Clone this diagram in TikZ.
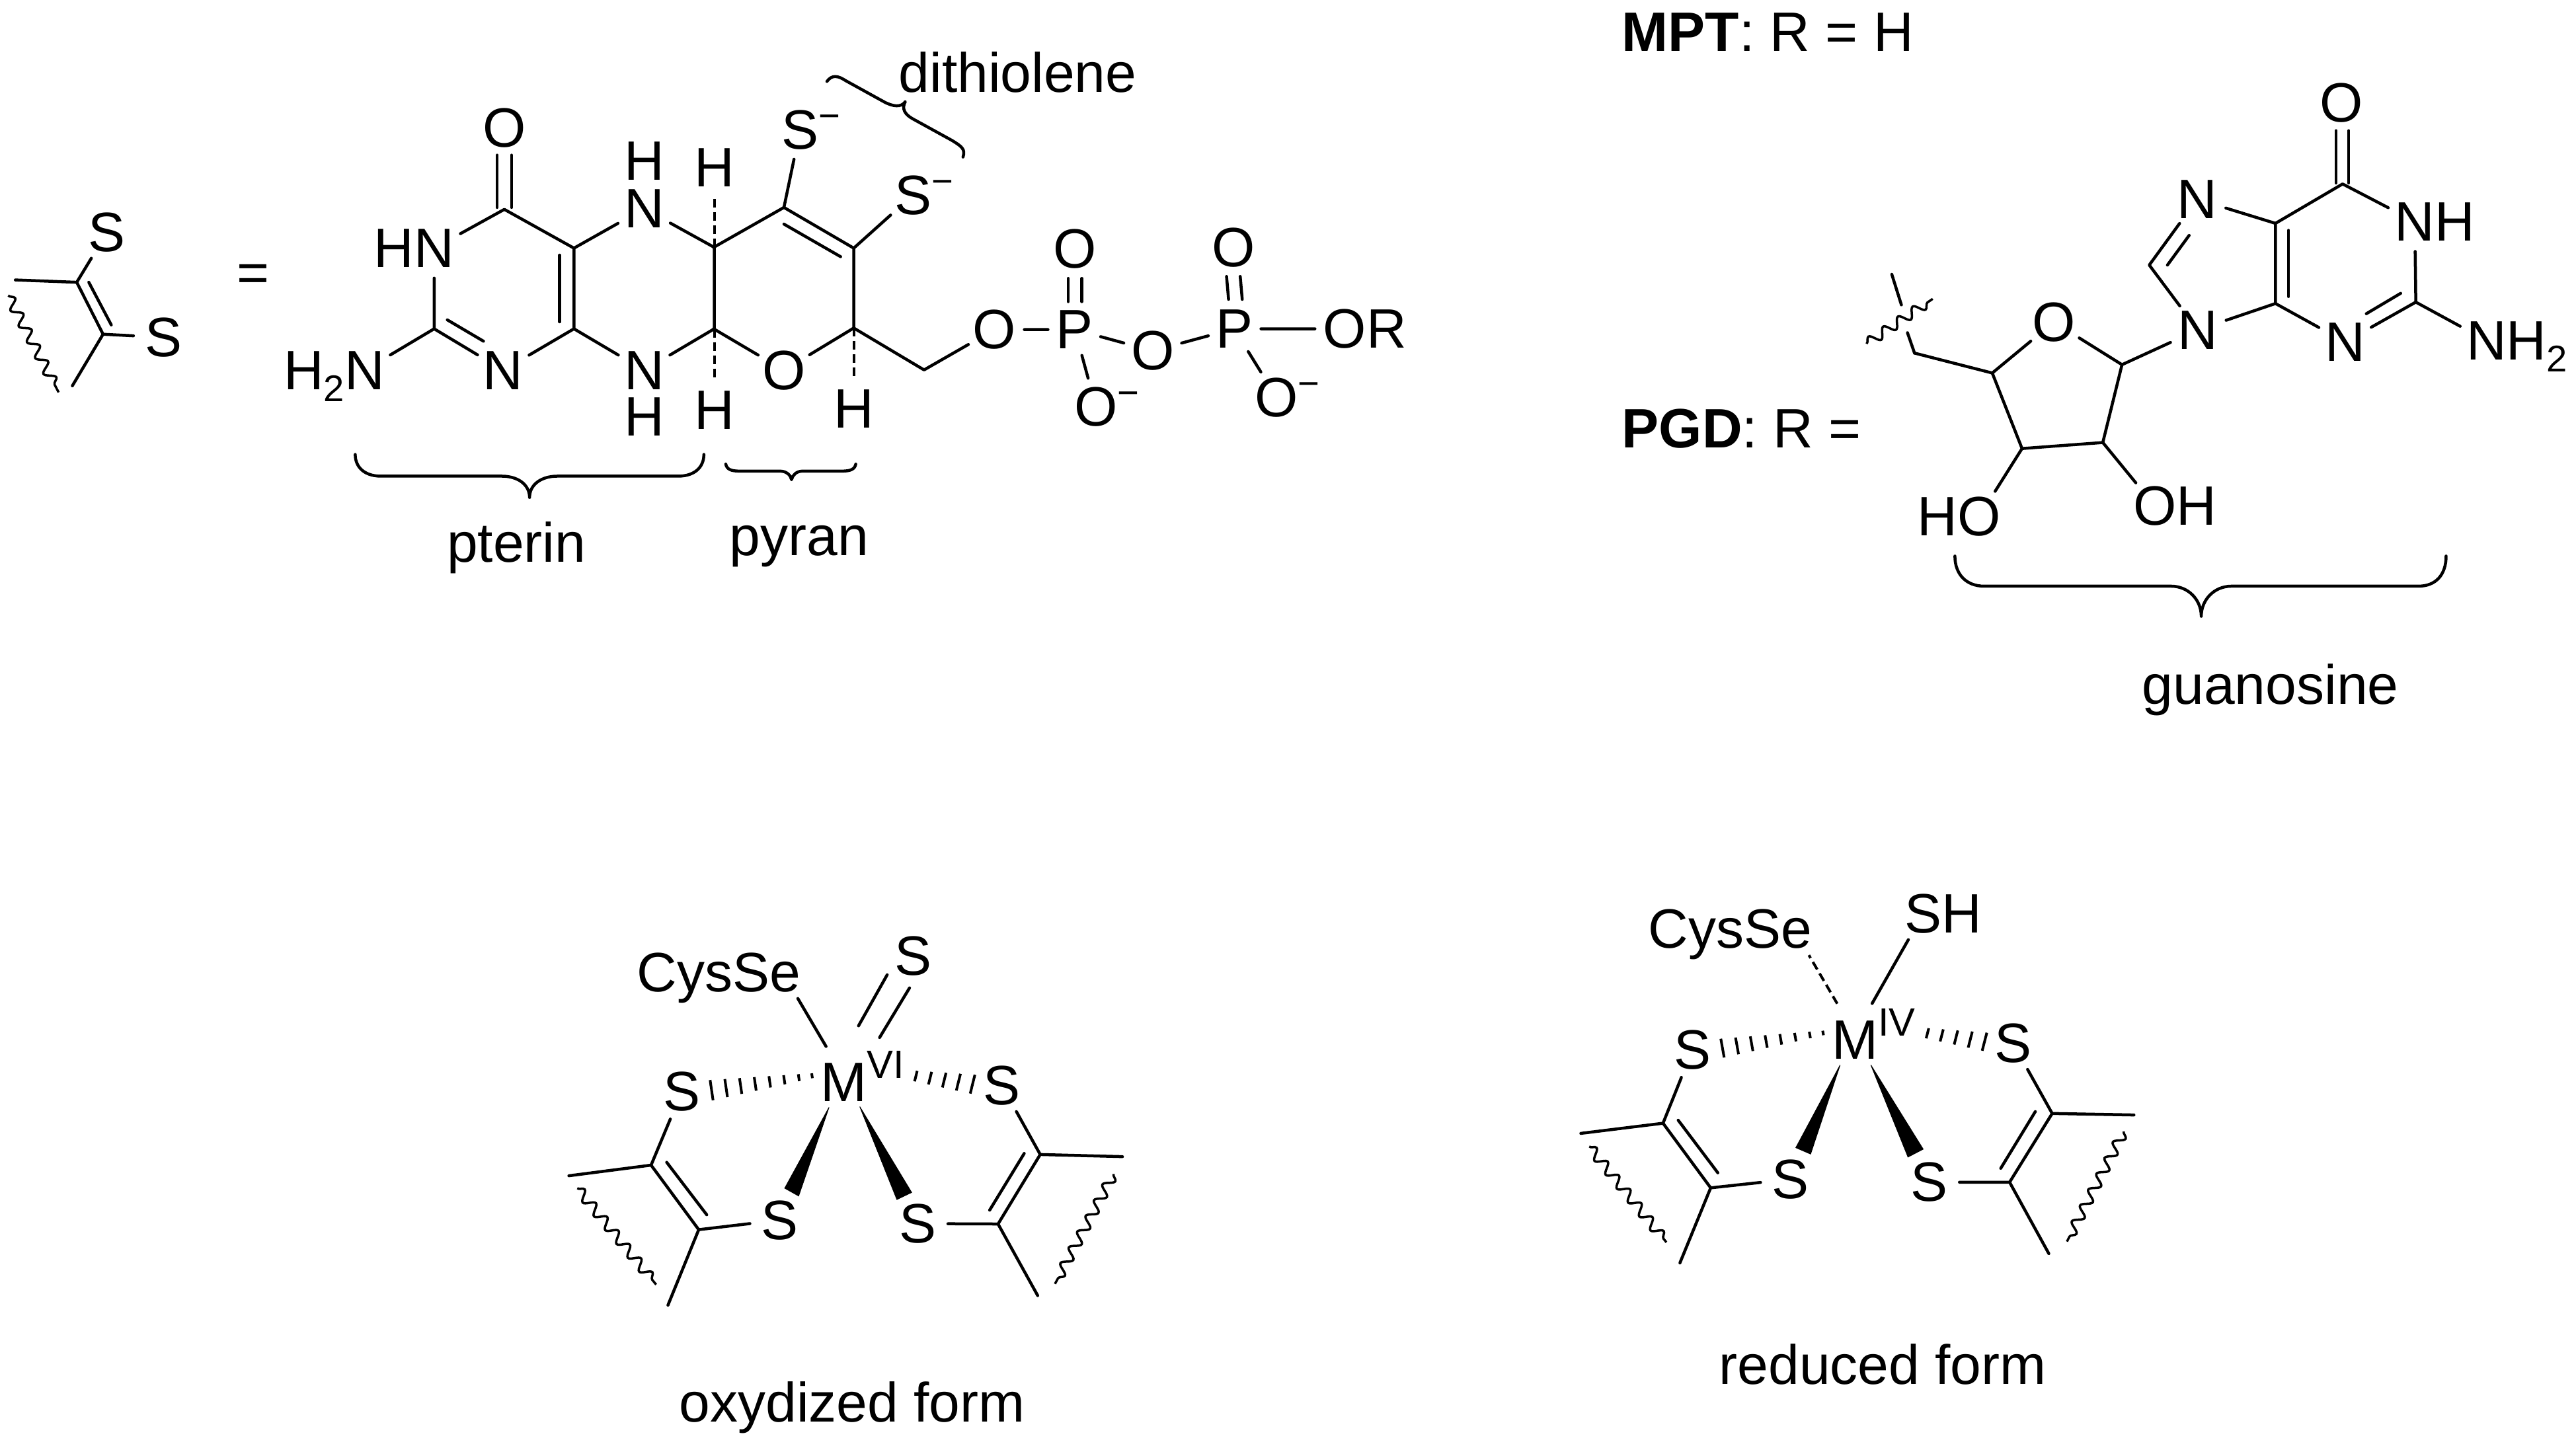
\documentclass[tikz,border=0pt]{standalone}
\usepackage{fontspec}
\setmainfont{Liberation Sans}
\usetikzlibrary{calc,decorations.pathmorphing}
\newcommand{\supf}{\fontsize{32}{34}\selectfont}
\newcommand{\smin}{\rlap{\smash{\raisebox{0.62cm}{\supf −}}}}
\newcommand{\two}{\raisebox{-0.36cm}{\supf 2}}
\newcommand{\seg}[3]{\coordinate (#1a) at #2; \coordinate (#1b) at #3; \draw[bd] (#1a) -- (#1b);}
\newcommand{\wav}[3]{\coordinate (#1a) at #2; \coordinate (#1b) at #3; \draw[wavy] (#1a) -- (#1b);}
\newcommand{\hashl}[3]{\foreach \t in {.24,.34,.45,.56,.67,.78,.89,1}{\draw[hashst] ($#1!\t!#2$) -- ($#1!\t!#3$);}}
\newcommand{\hashr}[3]{\foreach \t in {.56,.67,.78,.89,1}{\draw[hashst] ($#1!\t!#2$) -- ($#1!\t!#3$);}}
\tikzset{
  every node/.style={font=\fontsize{47.8}{55}\selectfont,inner sep=0},
  bd/.style={line width=.09cm,line cap=round,line join=round},
  dashbd/.style={line width=.08cm,dash pattern=on .26cm off .14cm},
  wavy/.style={line width=.07cm,decorate,decoration={snake,amplitude=.15cm,segment length=.54cm}},
  hashst/.style={line width=.08cm},
  wedge/.style={fill=black,draw=black,line width=.02cm},
  atom/.style={circle,minimum size=1.8cm},
  atomP/.style={circle,minimum size=1.3cm},
  atomE/.style={circle,minimum size=1.5cm},
  atomM/.style={circle,minimum size=2.1cm},
  lab/.style={anchor=base},
  laba/.style={anchor=base west},
  zz/.style={x=.02cm,y=-.02cm},
  z1/.style={x=.016581cm,y=-.011735cm},
  z2/.style={shift={(20cm,0cm)},x=.015306cm,y=-.011735cm},
  z3/.style={shift={(54cm,0cm)},x=.015268cm,y=-.01403cm},
  z4/.style={shift={(16cm,-27cm)},x=.012755cm,y=-.010727cm},
  z5/.style={shift={(47cm,-26cm)},x=.012755cm,y=-.011365cm},
}
\begin{document}
\begin{tikzpicture}
\useasboundingbox (0,0) rectangle (77.94,-43.82);
% ---------- left fragment and pterin
\begin{scope}[z1]
  \coordinate (aC1) at (140,728);
  \coordinate (aC2) at (188,862);
  \coordinate (aF1) at (28,722);
  \coordinate (aF2) at (132,995);
  \node[atom] (aS1) at (195,600) {S};
  \node[atom] (aS2) at (298,870) {S};
  \draw[bd] (aF1) -- (aC1) -- (aC2) -- (aF2);
  \draw[bd] (aC1) -- (aS1);
  \draw[bd] (aC2) -- (aS2);
  \seg{aDb}{(162,728)}{(203,838)}
  \wav{aW}{(15,762)}{(107,1012)}
  \node[lab] (eq) at (462,753) {=};

  \node[atom] (pO) at (920,330) {O};
  \node[atom] (pN1) at (792,640) {\llap{H}N};
  \node[atom] (pN2) at (665,955) {\llap{\smash{H\two}}N};
  \node[atom] (pN3) at (918,955) {N};
  \node[atom] (pN5) at (1175,538) {N};
  \node (pH5) at (1175,415) {H};
  \node[atom] (pN8) at (1175,955) {N};
  \node (pH8) at (1175,1075) {H};
  \node[atom] (pH6) at (1303,432) {H};
  \node[atom] (pH7) at (1303,1058) {H};
  \coordinate (pC4) at (920,540);
  \coordinate (pC2) at (792,848);
  \coordinate (pC4a) at (1047,640);
  \coordinate (pC8a) at (1047,848);
  \coordinate (pC6) at (1303,638);
  \coordinate (pC7) at (1303,848);
  \draw[bd] (pN1) -- (pC4) -- (pC4a) -- (pC8a) -- (pN3);
  \draw[bd] (pN1) -- (pC2) -- (pN3);
  \draw[bd] (pC2) -- (pN2);
  \draw[bd] (pC4a) -- (pN5) -- (pC6) -- (pC7) -- (pN8) -- (pC8a);
  \seg{pD1}{(907,400)}{(907,535)}
  \seg{pD2}{(933,400)}{(933,535)}
  \seg{pD3}{(816,825)}{(882,880)}
  \seg{pD4}{(1021,658)}{(1021,830)}
  \draw[dashbd] (pC6) -- (pH6);
  \draw[dashbd] (pC7) -- (pH7);
  \node[lab] (tPterin) at (942,1450) {pterin};
  \coordinate (bP1) at (648,1172);
  \coordinate (bP2) at (966,1283);
  \coordinate (bP3) at (1284,1172);
  \draw[bd] (bP1) .. controls (648,1205) and (665,1228) .. (695,1228) -- (915,1228)
     .. controls (945,1228) and (966,1250) .. (bP2)
     .. controls (966,1250) and (987,1228) .. (1017,1228) -- (1237,1228)
     .. controls (1267,1228) and (1284,1205) .. (bP3);
\end{scope}
% ---------- pyran and phosphates
\begin{scope}[z2]
  \coordinate (qC6) at (104,638);
  \coordinate (qC7) at (104,848);
  \coordinate (qC3) at (243,535);
  \coordinate (qC2) at (381,640);
  \coordinate (qC1) at (381,846);
  \coordinate (qCH) at (520,954);
  \node[atom] (qOr) at (243,955) {O};
  \node[atom] (qS1) at (275,335) {S\smin};
  \node[atom] (qS2) at (498,503) {S\smin};
  \node[atom] (qH) at (381,1055) {H};
  \node[atom] (qO1) at (659,850) {O};
  \node[atomP] (qP1) at (818,850) {P};
  \node[atom] (qO2) at (818,642) {O};
  \node[atom] (qO3) at (860,1050) {O\smin};
  \node[atom] (qO4) at (972,905) {O};
  \node[atomP] (qP2) at (1133,848) {P};
  \node[atom] (qO5) at (1132,638) {O};
  \node[atom] (qO6) at (1217,1025) {O\smin};
  \node[atom] (qO7) at (1352,848) {O\rlap{R}};
  \draw[bd] (qC6) -- (qC3) -- (qC2) -- (qC1) -- (qOr) -- (qC7);
  \draw[bd] (qC3) -- (qS1);
  \draw[bd] (qC2) -- (qS2);
  \seg{qD1}{(243,578)}{(355,662)}
  \draw[dashbd] (qC1) -- (qH);
  \draw[bd] (qC1) -- (qCH) -- (qO1) -- (qP1) -- (qO4) -- (qP2) -- (qO7);
  \draw[bd] (qP1) -- (qO3);
  \draw[bd] (qP2) -- (qO6);
  \seg{qD2}{(805,718)}{(805,778)}
  \seg{qD3}{(832,718)}{(832,778)}
  \seg{qD4}{(1118,713)}{(1122,772)}
  \seg{qD5}{(1145,713)}{(1149,772)}
  \node[lab] (tDith) at (705,238) {dithiolene};
  \node[lab] (tPyran) at (273,1433) {pyran};
  \coordinate (bD1) at (328,210);
  \coordinate (bD2) at (483,262);
  \coordinate (bD3) at (597,405);
  \draw[bd] (bD1) .. controls (338,192) and (350,195) .. (365,208) -- (440,262)
     .. controls (458,275) and (475,278) .. (bD2)
     .. controls (475,280) and (482,295) .. (497,306) -- (575,362)
     .. controls (595,378) and (602,385) .. (bD3);
  \coordinate (bY1) at (128,1197);
  \coordinate (bY2) at (258,1237);
  \coordinate (bY3) at (385,1197);
  \draw[bd] (bY1) .. controls (130,1210) and (138,1215) .. (155,1215) -- (235,1215)
     .. controls (248,1215) and (256,1225) .. (bY2)
     .. controls (260,1225) and (268,1215) .. (280,1215) -- (358,1215)
     .. controls (375,1215) and (383,1210) .. (bY3);
\end{scope}
% ---------- R definitions
\begin{scope}[zz]
  \node[laba] (tMPT) at (2453,77) {\textbf{MPT}: R = H};
  \node[laba] (tPGD) at (2453,677) {\textbf{PGD}: R =};
\end{scope}
% ---------- guanosine
\begin{scope}[z3]
  \node[atom] (gO6) at (1103,222) {O};
  \node[atom] (gN1) at (1248,478) {N\rlap{H}};
  \node[atom] (gN7) at (817,430) {N};
  \node[atom] (gN9) at (818,712) {N};
  \node[atom] (gN3) at (1110,738) {N};
  \node[atom] (gN2) at (1390,735) {N\rlap{\smash{H\two}}};
  \node[atom] (gOs) at (533,695) {O};
  \node[atom] (gO3) at (385,1115) {\llap{H}O};
  \node[atom] (gO2) at (733,1092) {O\rlap{H}};
  \coordinate (gC6) at (1105,397);
  \coordinate (gC5) at (972,482);
  \coordinate (gC4) at (972,655);
  \coordinate (gC8) at (722,572);
  \coordinate (gC2) at (1250,652);
  \coordinate (gC1s) at (668,787);
  \coordinate (gC4s) at (411,805);
  \coordinate (gC5s) at (257,762);
  \coordinate (gC2s) at (630,955);
  \coordinate (gC3s) at (470,968);
  \draw[bd] (gN1) -- (gC6) -- (gC5) -- (gC4) -- (gN3) -- (gC2) -- (gN1);
  \draw[bd] (gC5) -- (gN7) -- (gC8) -- (gN9) -- (gC4);
  \draw[bd] (gC2) -- (gN2);
  \draw[bd] (gN9) -- (gC1s) -- (gOs) -- (gC4s) -- (gC3s) -- (gC2s) -- (gC1s);
  \draw[bd] (gC4s) -- (gC5s);
  \draw[bd] (gC3s) -- (gO3);
  \draw[bd] (gC2s) -- (gO2);
  \seg{gD1}{(1092,282)}{(1092,395)}
  \seg{gD2}{(1117,282)}{(1117,395)}
  \seg{gD3}{(998,497)}{(998,640)}
  \seg{gD4}{(801,508)}{(758,572)}
  \seg{gD5}{(1220,633)}{(1152,677)}
  \seg{gK1}{(257,762)}{(243,718)}
  \seg{gK2}{(231,658)}{(212,592)}
  \wav{gW}{(162,742)}{(293,645)}
  \node[lab] (tGuan) at (962,1520) {guanosine};
  \coordinate (bG1) at (337,1200);
  \coordinate (bG2) at (825,1330);
  \coordinate (bG3) at (1310,1200);
  \draw[bd] (bG1) .. controls (337,1240) and (360,1265) .. (395,1265) -- (765,1265)
     .. controls (800,1265) and (825,1295) .. (bG2)
     .. controls (825,1295) and (850,1265) .. (885,1265) -- (1255,1265)
     .. controls (1290,1265) and (1310,1240) .. (bG3);
\end{scope}
% ---------- oxidized form
\begin{scope}[z4]
  \node[atomM] (oM) at (747,520) {M\rlap{\raisebox{.7cm}{\supf\fontsize{34}{36}\selectfont VI}}};
  \node[atomE] (oSe) at (608,239) {\llap{\smash{CysS}}e};
  \node[atom] (oS0) at (912,180) {S};
  \node[atom] (oS1) at (363,562) {S};
  \node[atom] (oS2) at (595,925) {S};
  \node[atom] (oS3) at (923,935) {S};
  \node[atom] (oS4) at (1122,545) {S};
  \coordinate (oC1) at (290,770);
  \coordinate (oC2) at (403,952);
  \coordinate (oC3) at (1113,936);
  \coordinate (oC4) at (1213,740);
  \coordinate (oF1) at (95,800);
  \coordinate (oF2) at (330,1165);
  \coordinate (oF3) at (1207,1138);
  \coordinate (oF4) at (1408,746);
  \draw[bd] (oM) -- (oSe);
  \seg{oD1}{(850,233)}{(782,377)}
  \seg{oD2}{(903,270)}{(832,410)}
  \draw[bd] (oS1) -- (oC1) -- (oC2) -- (oS2);
  \draw[bd] (oF1) -- (oC1);
  \draw[bd] (oC2) -- (oF2);
  \draw[bd] (oS3) -- (oC3) -- (oC4) -- (oS4);
  \draw[bd] (oC3) -- (oF3);
  \draw[bd] (oC4) -- (oF4);
  \seg{oD3}{(327,762)}{(422,910)}
  \seg{oD4}{(1093,897)}{(1175,737)}
  \wav{oW1}{(115,835)}{(302,1107)}
  \wav{oW2}{(1387,795)}{(1248,1105)}
  \coordinate (oT1) at (712,607); \coordinate (oB1) at (607,835); \coordinate (oB2) at (640,857);
  \fill[wedge] (oT1) -- (oB1) -- (oB2) -- cycle;
  \coordinate (oT2) at (785,605); \coordinate (oB3) at (873,867); \coordinate (oB4) at (908,847);
  \fill[wedge] (oT2) -- (oB3) -- (oB4) -- cycle;
  \coordinate (oAl) at (747,505); \coordinate (oHl1) at (430,530); \coordinate (oHl2) at (437,587);
  \hashl{(oAl)}{(oHl1)}{(oHl2)}
  \coordinate (oAr) at (747,490); \coordinate (oHr1) at (1058,515); \coordinate (oHr2) at (1047,568);
  \hashr{(oAr)}{(oHr1)}{(oHr2)}
  \node[lab] (tOx) at (767,1495) {oxydized form};
\end{scope}
% ---------- reduced form
\begin{scope}[z5]
  \node[atomM] (rM) at (715,465) {M\rlap{\raisebox{.7cm}{\fontsize{34}{36}\selectfont IV}}};
  \node[atomE] (rSe) at (576,198) {\llap{\smash{CysS}}e};
  \node[atom] (rS0) at (877,145) {S\rlap{H}};
  \node[atom] (rS1) at (330,507) {S};
  \node[atom] (rS2) at (562,852) {S};
  \node[atom] (rS3) at (892,860) {S};
  \node[atom] (rS4) at (1090,490) {S};
  \coordinate (rC1) at (260,703);
  \coordinate (rC2) at (373,875);
  \coordinate (rC3) at (1082,860);
  \coordinate (rC4) at (1183,677);
  \coordinate (rF1) at (65,730);
  \coordinate (rF2) at (300,1075);
  \coordinate (rF3) at (1175,1050);
  \coordinate (rF4) at (1377,681);
  \draw[dashbd] (rM) -- (rSe);
  \draw[bd] (rM) -- (rS0);
  \draw[bd] (rS1) -- (rC1) -- (rC2) -- (rS2);
  \draw[bd] (rF1) -- (rC1);
  \draw[bd] (rC2) -- (rF2);
  \draw[bd] (rS3) -- (rC3) -- (rC4) -- (rS4);
  \draw[bd] (rC3) -- (rF3);
  \draw[bd] (rC4) -- (rF4);
  \seg{rD3}{(296,695)}{(390,835)}
  \seg{rD4}{(1061,823)}{(1143,672)}
  \wav{rW1}{(85,765)}{(268,1020)}
  \wav{rW2}{(1353,725)}{(1218,1018)}
  \coordinate (rT1) at (680,548); \coordinate (rB1) at (575,768); \coordinate (rB2) at (610,785);
  \fill[wedge] (rT1) -- (rB1) -- (rB2) -- cycle;
  \coordinate (rT2) at (753,548); \coordinate (rB3) at (841,793); \coordinate (rB4) at (877,772);
  \fill[wedge] (rT2) -- (rB3) -- (rB4) -- cycle;
  \coordinate (rAl) at (715,450); \coordinate (rHl1) at (397,478); \coordinate (rHl2) at (405,528);
  \hashl{(rAl)}{(rHl1)}{(rHl2)}
  \coordinate (rAr) at (715,435); \coordinate (rHr1) at (1028,462); \coordinate (rHr2) at (1017,510);
  \hashr{(rAr)}{(rHr1)}{(rHr2)}
  \node[lab] (tRed) at (781,1398) {reduced form};
\end{scope}
\end{tikzpicture}
\end{document}
